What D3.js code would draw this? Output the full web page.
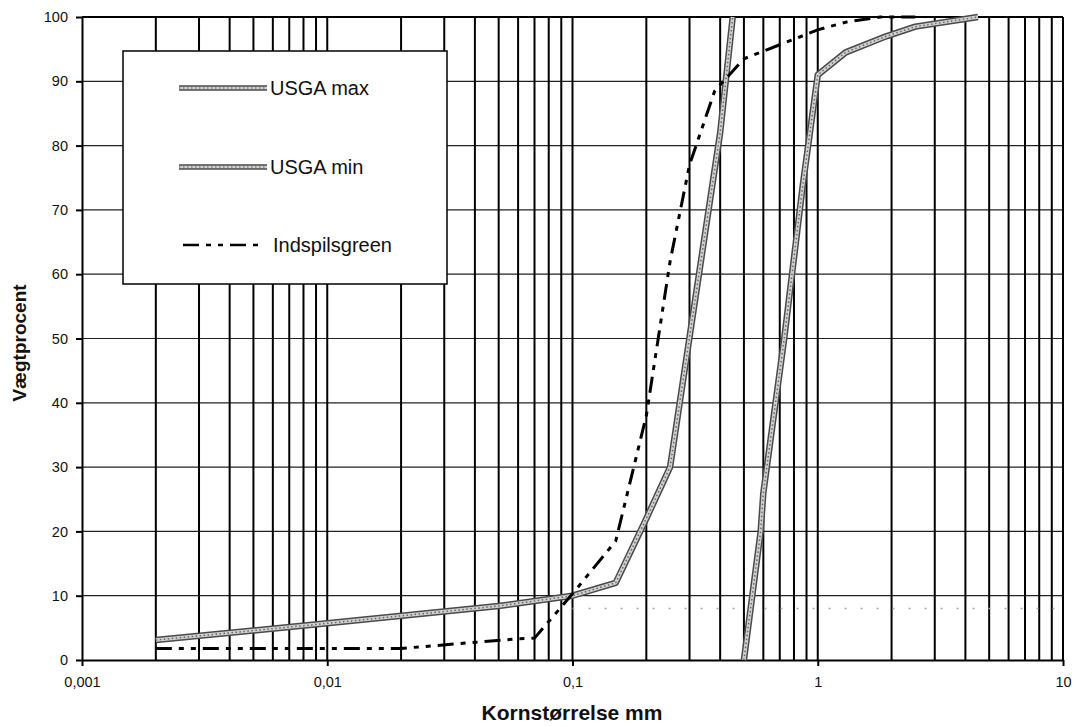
<!DOCTYPE html>
<html>
<head>
<meta charset="utf-8">
<script src="https://cdn.jsdelivr.net/npm/d3@7"></script>
<style>
  body { margin: 0; background: #fff; }
  text { font-family: "Liberation Sans", Arial, sans-serif; }
</style>
</head>
<body>
<div id="chart"></div>
<script>
//The data (x = grain size mm, y = weight %)
var usgaMaxSize = [0.002, 0.01, 0.05, 0.1, 0.15, 0.2, 0.25, 0.4, 0.45];
var usgaMaxPct  = [3.1, 5.7, 8.4, 10, 12, 22, 30, 82, 100];

var usgaMinSize = [0.5, 0.585, 0.6, 0.73, 0.87, 1, 1.3, 1.9, 2.5, 4.5];
var usgaMinPct  = [0, 20, 26, 50, 74, 91, 94.5, 97, 98.5, 100];

var greenSize = [0.002, 0.02, 0.06, 0.07, 0.1, 0.15, 0.2, 0.25, 0.3, 0.38, 0.5, 1, 1.3, 1.8, 2.5];
var greenPct  = [1.8, 1.8, 3.3, 3.4, 10.3, 18.5, 38, 62, 77, 88.5, 93.5, 98, 99.2, 100, 100];

// faint line that is almost lost in the scan
var faintSize = [0.1, 10];
var faintPct  = [8, 8];

var xTicks = [0.001, 0.01, 0.1, 1, 10];
var yTicks = [0, 10, 20, 30, 40, 50, 60, 70, 80, 90, 100];

var legendNames = ["USGA max", "USGA min", "Indspilsgreen"];

var width = 1076, height = 727;
var plotLeft = 82, plotRight = 1063, plotTop = 17, plotBottom = 660;

var svg = d3.select("#chart")
    .append("svg")
    .attr("width", width)
    .attr("height", height);

var x = d3.scaleLog().domain([0.001, 10]).range([plotLeft, plotRight]);
var y = d3.scaleLinear().domain([0, 100]).range([plotBottom, plotTop]);

//Horizontal gridlines
svg.append("g").selectAll("line")
    .data(yTicks.slice(1))
    .enter()
    .append("line")
    .attr("x1", plotLeft).attr("x2", plotRight)
    .attr("y1", function (d) { return y(d); })
    .attr("y2", function (d) { return y(d); })
    .attr("stroke", "#222")
    .attr("stroke-width", 1.2);

//Vertical gridlines at 2..10 of each decade
var vLines = x.ticks().filter(function (d) { return d > 0.0011; });
svg.append("g").selectAll("line")
    .data(vLines)
    .enter()
    .append("line")
    .attr("x1", function (d) { return x(d); })
    .attr("x2", function (d) { return x(d); })
    .attr("y1", plotTop).attr("y2", plotBottom)
    .attr("stroke", "#000")
    .attr("stroke-width", 2);

//Axes
var comma = function (d) { return String(d).replace(".", ","); };

var xAxis = svg.append("g")
    .attr("transform", "translate(0," + plotBottom + ")")
    .call(d3.axisBottom(x).tickValues(xTicks).tickFormat(comma).tickSize(6).tickSizeOuter(0));

var yAxis = svg.append("g")
    .attr("transform", "translate(" + plotLeft + ",0)")
    .call(d3.axisLeft(y).tickValues(yTicks).tickSize(6).tickSizeOuter(0));

[xAxis, yAxis].forEach(function (a) {
    a.select(".domain").attr("stroke", "#000").attr("stroke-width", 2);
    a.selectAll(".tick line").attr("stroke", "#000").attr("stroke-width", 2);
    a.selectAll("text")
        .attr("fill", "#111")
        .style("font-size", "14.5px")
        .style("font-family", "'Liberation Sans', Arial, sans-serif");
});
xAxis.selectAll("text").attr("dy", "1.25em");
yAxis.selectAll("text").attr("x", -14);

//top border
svg.append("line")
    .attr("x1", plotLeft).attr("x2", plotRight)
    .attr("y1", plotTop).attr("y2", plotTop)
    .attr("stroke", "#000").attr("stroke-width", 2);

//Axis titles
svg.append("text")
    .attr("x", 572).attr("y", 720)
    .attr("text-anchor", "middle")
    .attr("font-size", "21px")
    .attr("font-weight", "bold")
    .attr("fill", "#111")
    .text("Kornstørrelse mm");

svg.append("text")
    .attr("transform", "translate(26,343) rotate(-90)")
    .attr("text-anchor", "middle")
    .attr("font-size", "19px")
    .attr("font-weight", "bold")
    .attr("fill", "#111")
    .text("Vægtprocent");

//Line generator and series
var line = d3.line()
    .x(function (d) { return x(d[0]); })
    .y(function (d) { return y(d[1]); });

function pairs(xs, ys) {
    return xs.map(function (v, i) { return [v, ys[i]]; });
}

//the gray textured USGA lines
function grayLine(target, data) {
    target.append("path").datum(data)
        .attr("d", line).attr("fill", "none")
        .attr("stroke", "#4a4a4a").attr("stroke-width", 6.5)
        .attr("stroke-linejoin", "round");
    target.append("path").datum(data)
        .attr("d", line).attr("fill", "none")
        .attr("stroke", "#d0d0d0").attr("stroke-width", 3.5)
        .attr("stroke-linejoin", "round");
    target.append("path").datum(data)
        .attr("d", line).attr("fill", "none")
        .attr("stroke", "#666").attr("stroke-width", 1.5)
        .attr("stroke-dasharray", "1.5,2.5");
}

svg.append("path")
    .datum(pairs(faintSize, faintPct))
    .attr("d", line)
    .attr("fill", "none")
    .attr("stroke", "#aaa")
    .attr("stroke-width", 1.5)
    .attr("stroke-dasharray", "2,14");

grayLine(svg, pairs(usgaMaxSize, usgaMaxPct));
grayLine(svg, pairs(usgaMinSize, usgaMinPct));

var greenDash = "16,7,5,7,5,7";
svg.append("path")
    .datum(pairs(greenSize, greenPct))
    .attr("d", line)
    .attr("fill", "none")
    .attr("stroke", "#000")
    .attr("stroke-width", 3)
    .attr("stroke-dasharray", greenDash);

//Legend box
var legend = svg.append("g");
legend.append("rect")
    .attr("x", 123).attr("y", 51)
    .attr("width", 324).attr("height", 233)
    .attr("fill", "#fff")
    .attr("stroke", "#000")
    .attr("stroke-width", 1.5);

var legendY = [88, 167, 245];
legendNames.forEach(function (name, i) {
    var ly = legendY[i];
    var sample = [[179, ly], [267, ly]];
    var l = d3.line();
    if (i < 2) {
        legend.append("path").attr("d", l(sample)).attr("stroke", "#4a4a4a").attr("stroke-width", 5.5);
        legend.append("path").attr("d", l(sample)).attr("stroke", "#d0d0d0").attr("stroke-width", 2.5);
        legend.append("path").attr("d", l(sample)).attr("stroke", "#666").attr("stroke-width", 1.2)
            .attr("stroke-dasharray", "1.5,2.5");
    } else {
        legend.append("path").attr("d", l([[183, ly], [262, ly]]))
            .attr("stroke", "#000").attr("stroke-width", 2.5)
            .attr("stroke-dasharray", greenDash);
    }
    legend.append("text")
        .attr("x", i < 2 ? 270 : 273)
        .attr("y", ly + 7)
        .attr("font-size", "20px")
        .attr("fill", "#111")
        .text(name);
});
</script>
</body>
</html>
